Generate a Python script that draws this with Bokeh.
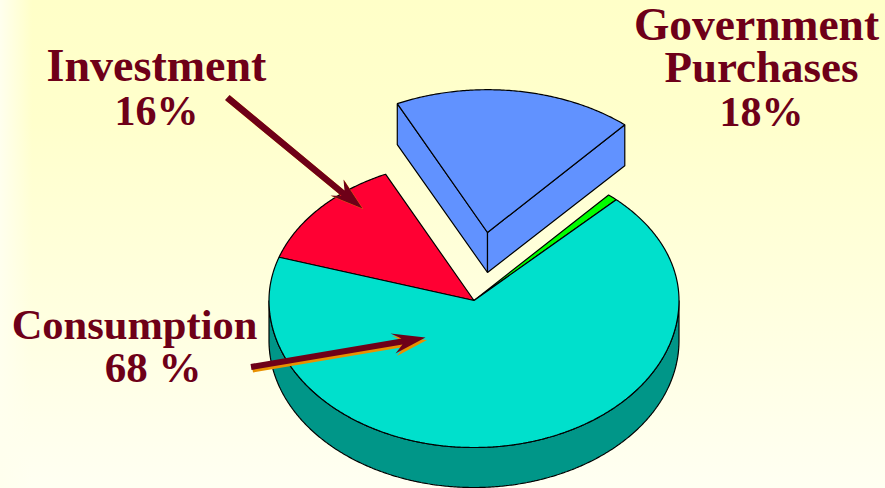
import numpy as np
from bokeh.core.properties import value
from bokeh.embed import file_html
from bokeh.models import Range1d
from bokeh.plotting import figure
from bokeh.resources import INLINE

# Data
slice_names = ["Investment", "Government Purchases", "Other", "Consumption"]
slice_shares = [12.9, 18.5, 0.8, 67.8]     # drawn share of the pie, percent
slice_colors = ["#FF0033", "#6192FF", "#00FF00", "#00E0CC"]
label_lines = ["Investment", "16%", "Government", "Purchases", "18%", "Consumption", "68 %"]
label_x = [156, 156, 756, 761, 761, 134, 152.5]
label_y = [82, 126, 41, 84, 127, 340, 383]
label_px = [46, 42, 45.5, 45, 42, 42.5, 43]

W, H = 885, 488
CX, CY = 473.5, 300
RX, RY_BACK, RY_FRONT = 205, 140, 147
DEPTH = 40
START = -72.0
EXPLODE = {"Government Purchases": (13.5, -68, 1.02)}
OUTLINE = "#000000"
MAROON = "#6E0018"
SHADOW = "#E89000"
SIDE = "#009688"
BASELINE_FIX = 0.38  # em


def ellipse(deg, k=1.0):
    a = np.radians(deg)
    c = np.cos(a)
    ry = np.where(c > 0, RY_BACK, RY_FRONT)
    return CX + k * RX * np.sin(a), CY - k * ry * c


p = figure(width=W, height=H, x_range=Range1d(0, W), y_range=Range1d(H, 0),
           output_backend="svg", toolbar_location=None, min_border=0,
           x_axis_location=None, y_axis_location=None)
p.grid.visible = False
p.outline_line_color = None
p.background_fill_alpha = 0
p.border_fill_alpha = 0
p.styles = {"position": "fixed", "left": "0", "top": "0",
            "background": "linear-gradient(90deg, #FFFFEE 0px, rgba(255,255,238,0) 32px),"
                          "linear-gradient(180deg, #FFFFC8 0%, #FFFFCC 25%, #FFFFF2 100%)"}

angles = START + np.concatenate([[0], np.cumsum(slice_shares)]) * 3.6
for i, name in enumerate(slice_names):
    a0, a1 = angles[i], angles[i + 1]
    deg = np.linspace(a0, a1, max(3, int(a1 - a0) * 2))
    dx, dy, k = EXPLODE.get(name, (0, 0, 1.0))
    ax, ay = ellipse(deg, k)
    if name in EXPLODE:
        ax, ay = ax + dx, ay + dy
    apex_x, apex_y = CX + dx, CY + dy
    color = slice_colors[i]
    if name == "Consumption":
        fd = np.linspace(90, 270, 361)
        fx, fy = ellipse(fd)
        p.patch(np.r_[fx, fx[::-1]], np.r_[fy + DEPTH, fy[::-1]],
                fill_color=SIDE, line_color=OUTLINE, line_width=1.2)
    if name in EXPLODE:
        p.patch([ax[0], ax[0], apex_x, apex_x],
                [ay[0], ay[0] + DEPTH + 1, apex_y + DEPTH, apex_y],
                fill_color=color, line_color=OUTLINE, line_width=1.2)
        p.patch([ax[-1], ax[-1], apex_x, apex_x],
                [ay[-1], ay[-1] + DEPTH + 1, apex_y + DEPTH, apex_y],
                fill_color=color, line_color=OUTLINE, line_width=1.2)
    p.patch(np.r_[apex_x, ax], np.r_[apex_y, ay],
            fill_color=color, line_color=OUTLINE, line_width=1.2)


def arrow(pts, shadow):
    xs = np.array([q[0] for q in pts], float)
    ys = np.array([q[1] for q in pts], float)
    if shadow:
        p.patch(xs + shadow[0], ys + shadow[1], fill_color=SHADOW, line_color=None)
    p.patch(xs, ys, fill_color=MAROON, line_color=None)


arrow([(224.5, 99.5), (229, 94.5), (344, 190), (343, 179), (362, 208), (330, 195), (341, 195.5)], (0.6, 0.6))
arrow([(250, 363.5), (401, 338), (390, 333), (425, 337), (395, 353), (402, 344), (251, 369.5)], (1.5, 2.5))

for x, y, t, px in zip(label_x, label_y, label_lines, label_px):
    p.text([x], [y - BASELINE_FIX * px], text=[t], text_font=value("Liberation Serif"),
           text_font_style="bold", text_font_size=f"{px}px", text_color=MAROON,
           text_align="center", text_baseline="alphabetic")

open("out.html", "w").write(file_html(p, INLINE))
